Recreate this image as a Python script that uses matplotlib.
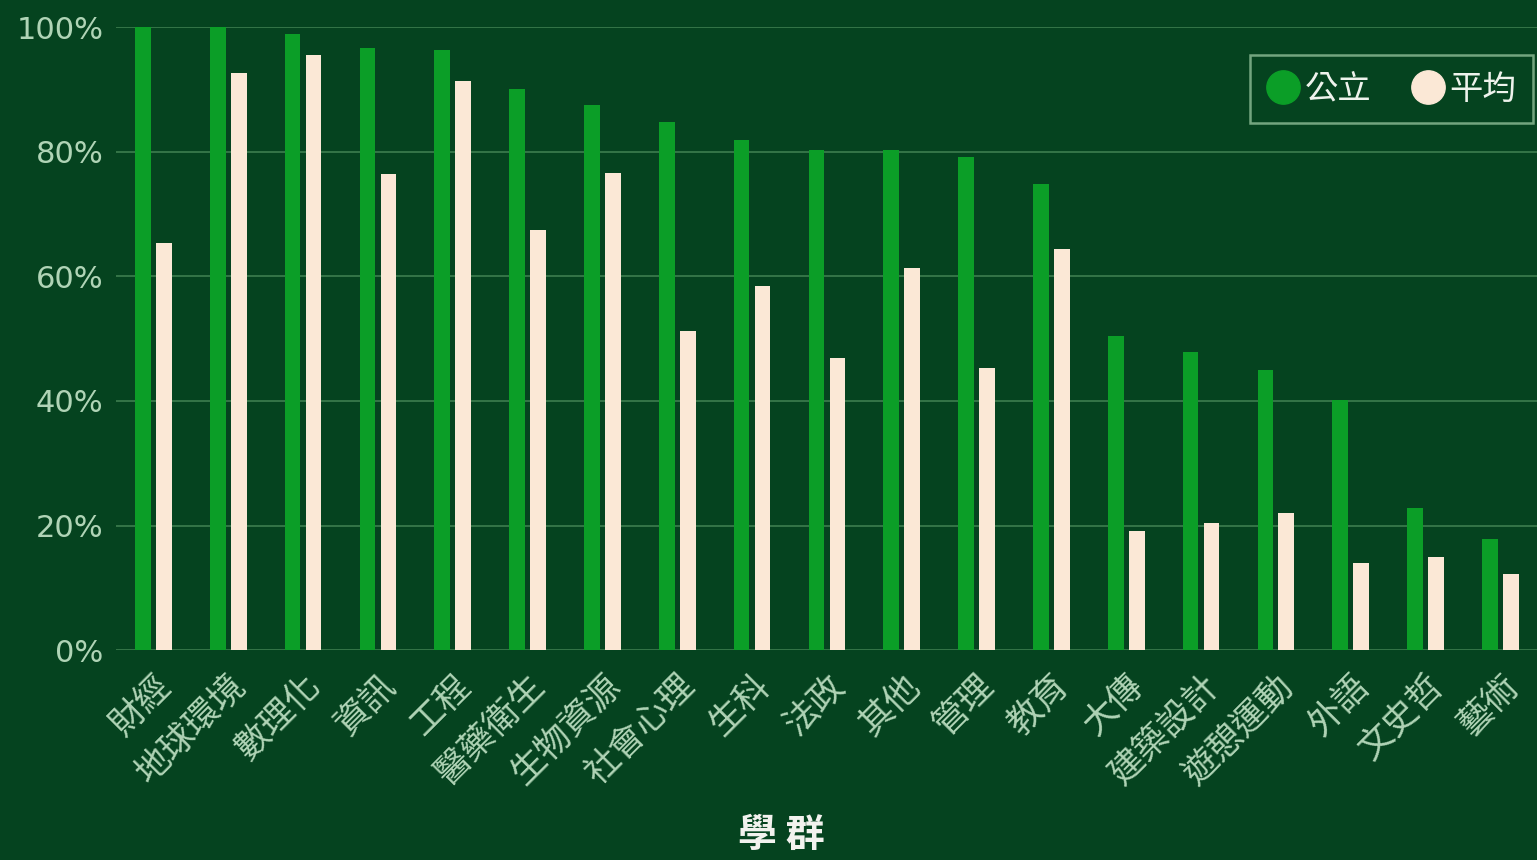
import numpy as np
import matplotlib.pyplot as plt
from matplotlib.lines import Line2D

plt.rcParams['font.family'] = ['Noto Sans CJK TC', 'DejaVu Sans']

groups = ['財經', '地球環境', '數理化', '資訊', '工程', '醫藥衛生', '生物資源', '社會心理', '生科',
          '法政', '其他', '管理', '教育', '大傳', '建築設計', '遊憩運動', '外語', '文史哲', '藝術']
public = [100, 100, 98.9, 96.6, 96.3, 90.0, 87.5, 84.8, 81.9, 80.3, 80.3, 79.1, 74.8,
          50.4, 47.8, 44.9, 40.1, 22.8, 17.8]
average = [65.3, 92.6, 95.5, 76.4, 91.3, 67.4, 76.6, 51.2, 58.4, 46.9, 61.3, 45.3, 64.4,
           19.1, 20.4, 22.0, 14.0, 14.9, 12.2]

bg = '#05431f'
c_pub = '#0b9e27'
c_avg = '#fbe8d6'
tick_c = '#b0d4b6'

fig = plt.figure(figsize=(15.37, 8.6), dpi=100, facecolor=bg)
ax = fig.add_axes([0.0755, 0.244, 0.925, 0.7246])
ax.set_facecolor(bg)

x = np.arange(len(groups))
w = 0.21
ax.bar(x - 0.14, public, w, color=c_pub, zorder=3)
ax.bar(x + 0.14, average, w, color=c_avg, zorder=3)

ax.set_xlim(-0.5, len(groups) - 0.5)
ax.set_ylim(0, 100)
ax.set_yticks(range(0, 101, 20))
ax.set_yticklabels(['%d%%' % v for v in range(0, 101, 20)], fontsize=22, color=tick_c,
                   family=['DejaVu Sans'])
ax.yaxis.grid(True, color='#3d7d4f', linewidth=1.2, zorder=0)
ax.tick_params(axis='y', length=0, pad=9)
ax.tick_params(axis='x', length=0, pad=22)
ax.set_xticks(x + 0.17)
ax.set_xticklabels(groups, rotation=45, ha='right', va='center', rotation_mode='anchor',
                   fontsize=25, color=tick_c)
for s in ax.spines.values():
    s.set_visible(False)

fig.text(781 / 1537, 1 - 835 / 860, '學 群', fontsize=28, fontweight='bold',
         color='#f2f2ee', ha='center', va='center')

handles = [Line2D([], [], marker='o', ls='', markersize=24, color=c_pub),
           Line2D([], [], marker='o', ls='', markersize=24, color=c_avg)]
leg = ax.legend(handles, ['公立', '平均'], loc='upper right', bbox_to_anchor=(0.9967, 0.955),
                ncol=2, frameon=True, fontsize=24, handletextpad=0.15, columnspacing=1.2,
                borderpad=0.5, borderaxespad=0, fancybox=False, handlelength=1.0)
leg.get_frame().set_facecolor(bg)
leg.get_frame().set_edgecolor('#8fbf98')
leg.get_frame().set_linewidth(1.8)
for t in leg.get_texts():
    t.set_color('#eef3ec')

fig.savefig('out.png', dpi=100, facecolor=bg)
